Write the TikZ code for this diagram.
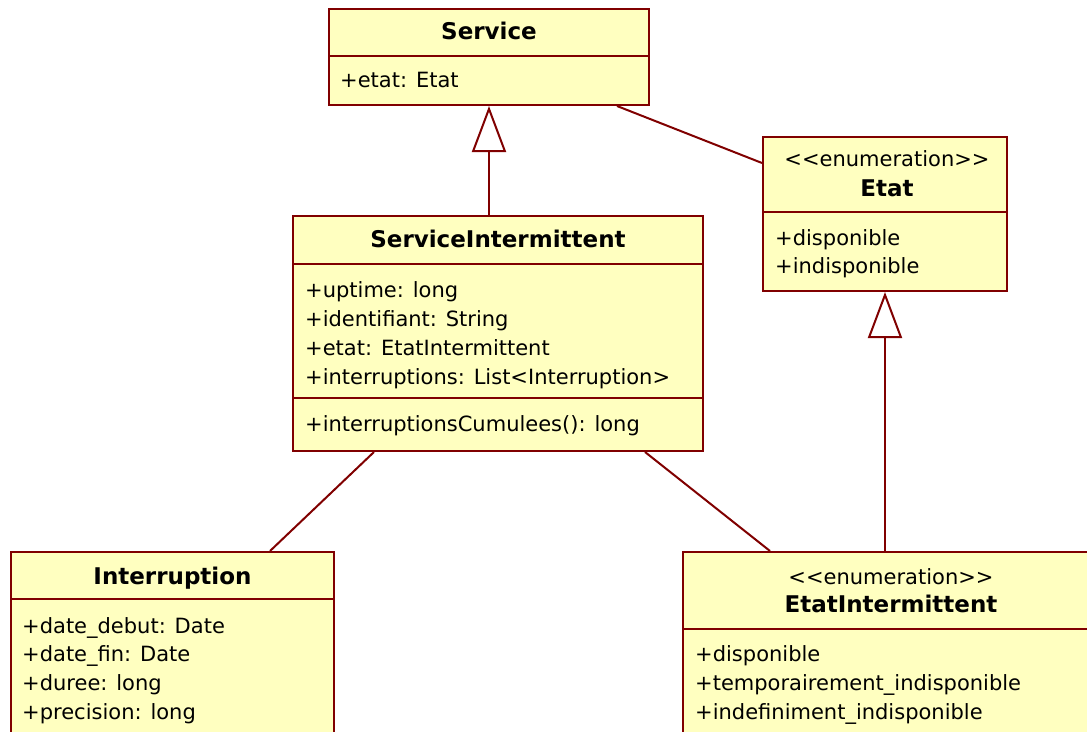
\documentclass[tikz,border=0pt]{standalone}
\usepackage{fontspec}
\setmainfont{DejaVu Sans}
\usepackage{xcolor}
\definecolor{umlred}{RGB}{128, 0, 0}
\definecolor{umlfill}{RGB}{255, 255, 192}
\usepackage{tikz}
\usetikzlibrary{arrows.meta,positioning,calc}

\begin{document}
\begin{tikzpicture}[
  x=1pt, y=-1pt,
  every node/.style={font=\fontsize{21}{29}\selectfont, inner sep=0pt},
  classbox/.style={draw=umlred, fill=umlfill, line width=2pt, anchor=north west},
  cname/.style={anchor=base, font=\fontsize{23}{29}\selectfont\bfseries},
  stereo/.style={anchor=base},
  member/.style={anchor=base west},
  link/.style={draw=umlred, line width=2pt},
  inherit/.style={link, -{Triangle[open, length=46pt, width=34pt, fill=white]}}
]
\path[use as bounding box, clip] (0,0) rectangle (1087,731);

% classes
\node[classbox, minimum width=320pt, minimum height=96pt] (svc) at (328,8) {};
\node[classbox, minimum width=410pt, minimum height=235pt] (si) at (292,215) {};
\node[classbox, minimum width=244pt, minimum height=154pt] (etat) at (762,136) {};
\node[classbox, minimum width=323pt, minimum height=200pt] (intr) at (10,551) {};
\node[classbox, minimum width=416pt, minimum height=200pt] (ei) at (682,551) {};

% Service
\node[cname] (svc-name) at ([yshift=-31pt]svc.north) {Service};
\draw[link] ([yshift=-48pt]svc.north west) -- ([yshift=-48pt]svc.north east);
\node[member] (svc-a0) at ([xshift=12pt, yshift=-79pt]svc.north west) {+etat: Etat};

% ServiceIntermittent
\node[cname] (si-name) at ([yshift=-32pt]si.north) {ServiceIntermittent};
\draw[link] ([yshift=-49pt]si.north west) -- ([yshift=-49pt]si.north east);
\foreach \m [count=\i from 0] in {{+uptime: long}, {+identifiant: String}, {+etat: EtatIntermittent}, {+interruptions: List<Interruption>}}
  \node[member] (si-a\i) at ([xshift=13pt, yshift=-82pt-29pt*\i]si.north west) {\m};
\draw[link] ([yshift=-183pt]si.north west) -- ([yshift=-183pt]si.north east);
\node[member] (si-op) at ([xshift=13pt, yshift=-216pt]si.north west) {+interruptionsCumulees(): long};

% Etat
\node[stereo] (etat-st) at ([xshift=2pt, yshift=-30pt]etat.north) {<{}<enumeration>{}>};
\node[cname] (etat-name) at ([xshift=2pt, yshift=-60pt]etat.north) {Etat};
\draw[link] ([yshift=-76pt]etat.north west) -- ([yshift=-76pt]etat.north east);
\foreach \m [count=\i from 0] in {{+disponible}, {+indisponible}}
  \node[member] (etat-a\i) at ([xshift=13pt, yshift=-109pt-28pt*\i]etat.north west) {\m};

% Interruption
\node[cname] (intr-name) at ([yshift=-33pt]intr.north) {Interruption};
\draw[link] ([yshift=-48pt]intr.north west) -- ([yshift=-48pt]intr.north east);
\foreach \m [count=\i from 0] in {{+date\_debut: Date}, {+date\_fin: Date}, {+duree: long}, {+precision: long}}
  \node[member] (intr-a\i) at ([xshift=12pt, yshift=-82pt-28.7pt*\i]intr.north west) {\m};

% EtatIntermittent
\node[stereo] (ei-st) at ([yshift=-33pt]ei.north) {<{}<enumeration>{}>};
\node[cname] (ei-name) at ([yshift=-61pt]ei.north) {EtatIntermittent};
\draw[link] ([yshift=-78pt]ei.north west) -- ([yshift=-78pt]ei.north east);
\foreach \m [count=\i from 0] in {{+disponible}, {+temporairement\_indisponible}, {+indefiniment\_indisponible}}
  \node[member] (ei-a\i) at ([xshift=13pt, yshift=-110pt-29pt*\i]ei.north west) {\m};

% relations
\draw[inherit] (svc.south |- si.north) -- (svc.south);
\draw[inherit] (etat.south |- ei.north) -- (etat.south);
\draw[link] ([xshift=289pt]svc.south west) -- ([yshift=-27pt]etat.north west);
\draw[link] ([xshift=82pt]si.south west) -- ([xshift=260pt]intr.north west);
\draw[link] ([xshift=353pt]si.south west) -- ([xshift=88pt]ei.north west);
\end{tikzpicture}
\end{document}
